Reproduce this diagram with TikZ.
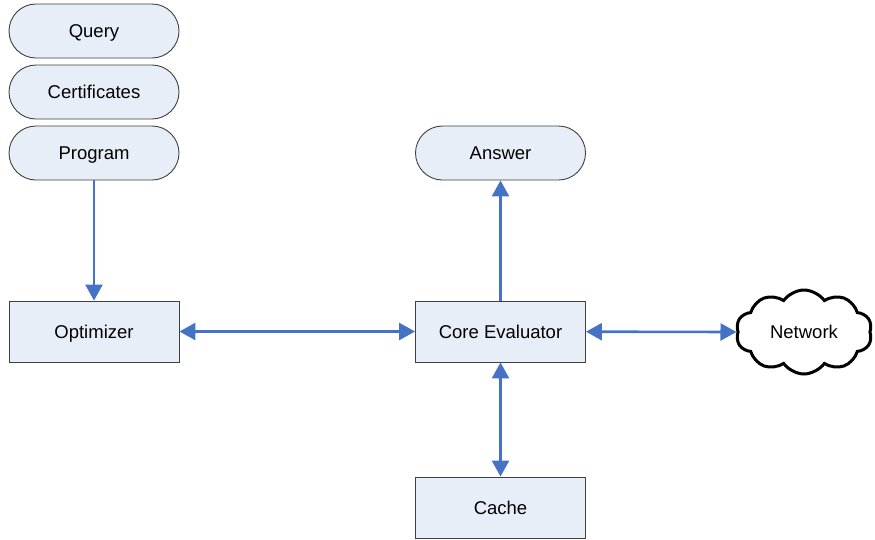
\documentclass[tikz,border=0pt]{standalone}
\usepackage{fontspec}
\setmainfont{Liberation Sans}
\usetikzlibrary{shapes.symbols,arrows.meta}
\definecolor{boxfill}{HTML}{E8EEF8}
\definecolor{boxline}{HTML}{404040}
\definecolor{flow}{HTML}{4472C4}
\tikzset{
  lbl/.style={font=\fontsize{18.5}{20}\selectfont, text height=13.2pt, text depth=0pt},
  pill/.style={lbl, draw=boxline, fill=boxfill, line width=0.9pt, rounded corners=27pt,
    minimum width=170pt, minimum height=54pt, inner sep=0pt},
  block/.style={lbl, draw=boxline, fill=boxfill, line width=0.9pt,
    minimum width=170pt, minimum height=61pt, inner sep=0pt},
  netcloud/.style={lbl, cloud, cloud puffs=10, cloud puff arc=110, cloud ignores aspect,
    draw=black, fill=white, line width=3pt, minimum width=136pt, minimum height=84pt, inner sep=0pt},
  link/.style={draw=flow, line width=2.6pt, -{Triangle[length=16pt,width=17pt]}},
  dlink/.style={draw=flow, line width=2.6pt, {Triangle[length=16pt,width=17pt]}-{Triangle[length=16pt,width=17pt]}}
}
\begin{document}
\begin{tikzpicture}[x=1pt,y=-1pt]
\useasboundingbox (0,0) rectangle (875,539);
\node[pill] (query) at (94,31) {Query};
\node[pill] (cert) at (94,92) {Certificates};
\node[pill] (prog) at (94,153) {Program};
\node[pill] (answer) at (500.5,153) {Answer};
\node[block] (opt) at (94,331.5) {Optimizer};
\node[block] (core) at (500.5,331.5) {Core Evaluator};
\node[block] (cache) at (500.5,507.5) {Cache};
\node[netcloud] (net) at (804,332) {Network};
\draw[link] (prog) -- (opt);
\draw[dlink] (opt) -- (core);
\draw[link] (core) -- (answer);
\draw[dlink] (core) -- (cache);
\draw[dlink] (core) -- (net.west);
\end{tikzpicture}
\end{document}
